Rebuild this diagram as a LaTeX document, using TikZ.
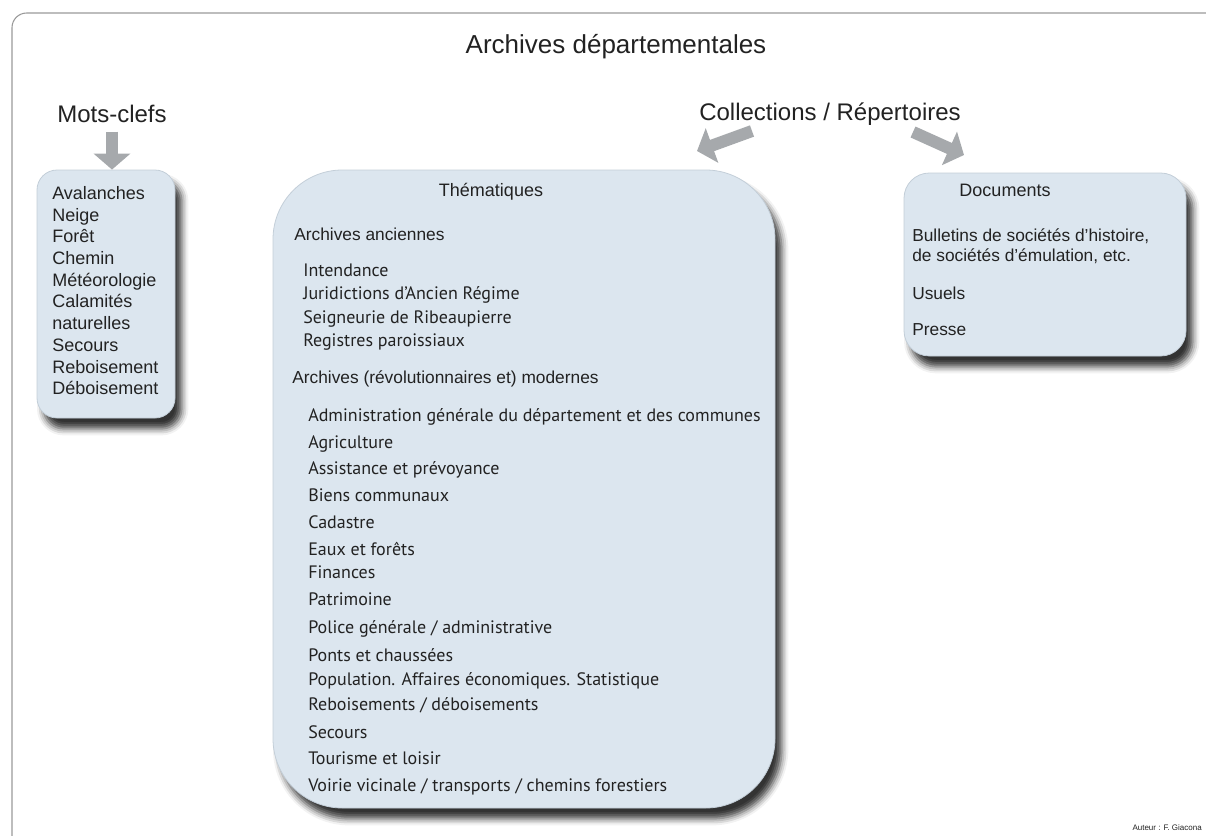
\documentclass[tikz,border=0pt]{standalone}
\usepackage{fontspec}
\setmainfont{Liberation Sans}
\newfontfamily\listfont{PT Sans}
\usetikzlibrary{arrows.meta,shadows.blur}

\definecolor{boxfill}{HTML}{DCE6EF}
\definecolor{boxline}{HTML}{C3CED8}
\definecolor{arrowgray}{HTML}{A6A9AC}
\definecolor{textdark}{HTML}{222222}

\tikzset{
  panel/.style={draw=boxline, line width=0.6pt, fill=boxfill,
    blur shadow={shadow xshift=5pt, shadow yshift=-8pt, shadow blur radius=5pt, shadow opacity=80}},
  bigarrow/.style={draw=arrowgray, line width=9pt, -{Triangle[length=12pt,width=27pt]}},
  head/.style={text=textdark, inner sep=0pt, font=\fontsize{13}{15}\selectfont},
  item/.style={text=textdark, inner sep=0pt, anchor=base west, font=\listfont\fontsize{13.5}{16}\selectfont},
}

\begin{document}
\begin{tikzpicture}[x=0.75pt,y=-0.75pt]
\useasboundingbox (0,0) rectangle (1206,835);
\clip (0,0) rectangle (1206,835);
\draw[gray!80, line width=0.8pt, rounded corners=11pt] (12,13) rectangle (1240,870);

\node[text=textdark, font=\fontsize{19.5}{23}\selectfont] (title) at (616,47) {Archives départementales};
\node[text=textdark, font=\fontsize{18}{21}\selectfont] (mots) at (112,114) {Mots-clefs};
\node[text=textdark, font=\fontsize{18}{21}\selectfont] (coll) at (830,114) {Collections / Répertoires};

% boxes
\node[panel, rounded corners=15pt, minimum width=103.5pt, minimum height=186pt] (kw) at (106,294) {};
\node[panel, rounded corners=52pt, minimum width=376.5pt, minimum height=478.5pt] (them) at (524,489) {};
\node[panel, rounded corners=19pt, minimum width=211.5pt, minimum height=137.25pt] (docs) at (1045,264.5) {};

% arrows
\coordinate (coll-l) at (752,131);
\coordinate (coll-r) at (913,132);
\coordinate (them-in) at (697,151);
\coordinate (docs-in) at (964,155);
\draw[bigarrow, shorten <=3pt] (mots.south) -- (mots.south |- kw.north);
\draw[bigarrow] (coll-l) -- (them-in);
\draw[bigarrow] (coll-r) -- (docs-in);

% mots-clefs
\node[head, anchor=north west, align=left, font=\fontsize{13.5}{16.3}\selectfont] (kwlist) at (52,186)
  {Avalanches\\Neige\\Forêt\\Chemin\\Météorologie\\Calamités\\naturelles\\Secours\\Reboisement\\Déboisement};

% thematiques
\node[head, font=\fontsize{13.5}{16}\selectfont] (themtitle) at (491,192) {Thématiques};
\node[head, anchor=west] (anc) at (294,234) {Archives anciennes};
\node[head, anchor=west] (mod) at (292,379) {Archives (révolutionnaires et) modernes};
\foreach \y/\t [count=\i] in {
  276/Intendance,
  299/Juridictions d’Ancien Régime,
  323/Seigneurie de Ribeaupierre,
  346/Registres paroissiaux}
  \node[item] (anc\i) at (303,\y) {\t};
\foreach \y/\t [count=\i] in {
  421/Administration générale du département et des communes,
  448/Agriculture,
  474/Assistance et prévoyance,
  501/Biens communaux,
  528/Cadastre,
  555/Eaux et forêts,
  578/Finances,
  605/Patrimoine,
  633/{Police générale / administrative},
  661/Ponts et chaussées,
  685/Population. Affaires économiques. Statistique,
  710/{Reboisements / déboisements},
  738/Secours,
  764/Tourisme et loisir,
  791/{Voirie vicinale / transports / chemins forestiers}}
  \node[item] (mod\i) at (308,\y) {\t};

% documents
\node[head, font=\fontsize{13.5}{16}\selectfont] (docstitle) at (1005,190) {Documents};
\node[head, anchor=north west, align=left] (bull) at (912,228)
  {Bulletins de sociétés d’histoire,\\de sociétés d’émulation, etc.};
\node[head, anchor=west] (usu) at (912,293) {Usuels};
\node[head, anchor=west] (pres) at (912,330) {Presse};

\node[text=textdark, inner sep=0pt, anchor=south east, font=\fontsize{6}{7}\selectfont] (auteur) at (1202,831) {Auteur : F. Giacona};
\end{tikzpicture}
\end{document}
